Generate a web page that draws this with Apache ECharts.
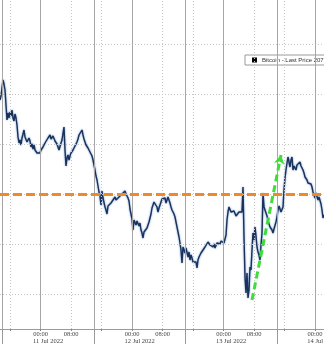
<!DOCTYPE html>
<html><head><meta charset="utf-8">
<script src="https://cdn.jsdelivr.net/npm/echarts@6/dist/echarts.min.js"></script>
<style>html,body{margin:0;padding:0;background:#fff}#c{width:324px;height:344px}</style>
</head><body><div id="c"></div>
<script>
// ---- data ----
const seriesName = 'Bitcoin - Last Price 20753';
const startTime = '2022-07-10T13:19:00';
const sampleMinutes = 15.75;
const prices = [
20940,20980,21060,21140,21100,21040,20890,20740,20810,20760,
20820,20780,20840,20760,20730,20800,20760,20690,20570,20510,
20540,20490,20560,20600,20640,20570,20590,20520,20510,20560,
20530,20470,20500,20450,20490,20440,20460,20410,20390,20430,
20410,20440,20430,20470,20460,20510,20530,20500,20560,20540,
20590,20550,20530,20580,20560,20530,20550,20500,20480,20440,
20460,20510,20540,20560,20670,20440,20280,20360,20390,20340,
20380,20410,20390,20440,20430,20480,20470,20520,20550,20590,
20570,20610,20640,20590,20550,20520,20490,20500,20460,20440,
20420,20430,20380,20340,20290,20240,20180,20140,20080,20020,
19980,19890,20030,19960,19940,19870,19840,19800,19880,19860,
19890,19910,19900,19940,19930,19970,19940,19930,19950,19970,
19980,19960,20000,19990,20010,20030,20000,20020,19960,19930,
19850,19800,19750,19640,19740,19760,19690,19730,19720,19680,
19710,19640,19610,19560,19620,19640,19610,19660,19680,19720,
19740,19800,19860,19890,19920,19910,19930,19870,19820,19860,
19890,19920,19950,19970,19940,19960,19910,19930,19970,19950,
19910,19870,19840,19820,19800,19770,19720,19670,19620,19570,
19510,19440,19310,19470,19440,19410,19460,19470,19370,19420,
19340,19390,19360,19320,19340,19300,19320,19260,19340,19370,
19390,19410,19420,19440,19430,19470,19450,19480,19520,19500,
19490,19510,19490,19470,19500,19460,19480,19510,19490,19520,
19500,19530,19510,19540,19510,19520,19590,19740,19820,19870,
19850,19820,19840,19800,19830,19810,19780,19800,19770,19820,
19800,19840,19820,20070,19570,19170,19010,19210,18960,19040,
19270,19240,19440,19610,19540,19670,19580,19470,19420,19390,
19340,19490,19610,20010,19870,19840,19810,19780,19740,19700,
19670,19660,19640,19610,19650,19640,19720,19770,19840,19880,
19870,19820,19840,19870,20040,20160,20240,20310,20370,20320,
20270,20340,20370,20240,20280,20260,20240,20290,20310,20290,
20320,20280,20260,20240,20210,20170,20190,20140,20110,20130,
20090,20100,20070,20020,19990,19960,20010,19990,19940,19970,
19960,19900,19840,19760,19790
];
const viewStart = '2022-07-10T13:19:00';
const viewEnd = '2022-07-14T02:22:00';
const priceMin = 18650, priceMax = 21940;
const gridLevels = [19000, 19500, 20000, 20500, 21000, 21500];
const refLevel = 20000;
const solidTimes = ['2022-07-10T14:00','2022-07-11T00:00','2022-07-11T14:00','2022-07-12T00:00','2022-07-12T14:00','2022-07-13T00:00','2022-07-13T14:00','2022-07-14T00:00'];
const dottedTimes = ['2022-07-10T16:00','2022-07-11T08:00','2022-07-11T16:00','2022-07-12T08:00','2022-07-12T16:00','2022-07-13T08:00','2022-07-13T16:00'];
const separatorTimes = ['2022-07-10T14:00','2022-07-11T14:00','2022-07-12T14:00','2022-07-13T14:00'];
const tickTimes = ['2022-07-10T16:00','2022-07-11T00:00','2022-07-11T08:00','2022-07-11T16:00','2022-07-12T00:00','2022-07-12T08:00','2022-07-12T16:00','2022-07-13T00:00','2022-07-13T08:00','2022-07-13T16:00','2022-07-14T00:00'];
const timeLabelTimes = ['2022-07-11T00:00','2022-07-11T08:00','2022-07-12T00:00','2022-07-12T08:00','2022-07-13T00:00','2022-07-13T08:00','2022-07-14T00:00'];
const timeLabels = ['00:00','08:00','00:00','08:00','00:00','08:00','00:00'];
const dayTimes = ['2022-07-11T00:00','2022-07-12T00:00','2022-07-13T00:00','2022-07-14T00:00'];
const dayLabels = ['11 Jul 2022','12 Jul 2022','13 Jul 2022','14 Jul 2022'];
const arrowFrom = ['2022-07-13T07:28', 18940];
const arrowTo = ['2022-07-13T15:05', 20390];

// ---- build ----
const ms = s => new Date(s).getTime();
const t0 = ms(startTime);
const lineData = prices.map((p, i) => [t0 + i * sampleMinutes * 60000, p]);
const timeLabelMs = timeLabelTimes.map(ms);
const dateShift = 2 * 3600000; // date text starts left of the day tick
const dayAnchorMs = dayTimes.map(s => ms(s) - dateShift);
const AXFONT = "'Liberation Serif','DejaVu Serif',serif";
const LGFONT = "'Liberation Sans',Arial,sans-serif";

const chart = echarts.init(document.getElementById('c'), null, {renderer: 'canvas'});
chart.setOption({
  animation: false,
  backgroundColor: '#ffffff',
  grid: {left: 0, right: 0, top: 0, bottom: 15, containLabel: false, outerBoundsMode: 'none'},
  legend: {
    data: [{name: seriesName, icon: 'rect', itemStyle: {color: '#000'}}],
    left: 245, top: 55, orient: 'horizontal', width: 200,
    itemWidth: 5, itemHeight: 5, itemGap: 3,
    padding: [2, 3, 2, 7],
    backgroundColor: '#fff', borderColor: '#9a9a9a', borderWidth: 1,
    textStyle: {fontFamily: LGFONT, fontSize: 6, color: '#333'},
    selectedMode: false
  },
  xAxis: [{
    type: 'value', min: ms(viewStart), max: ms(viewEnd),
    axisLine: {show: true, lineStyle: {color: '#9a9a9a', width: 1}},
    axisTick: {show: true, customValues: tickTimes.map(ms), length: 2, lineStyle: {color: '#888'}},
    axisLabel: {
      show: true, customValues: timeLabelMs, margin: 2,
      fontFamily: AXFONT, fontSize: 6.5, color: '#444',
      formatter: v => { const i = timeLabelMs.indexOf(v); return i >= 0 ? timeLabels[i] : ''; }
    },
    splitLine: {show: false}
  }, {
    type: 'value', min: ms(viewStart), max: ms(viewEnd), position: 'bottom',
    axisLine: {show: false},
    axisTick: {show: true, customValues: separatorTimes.map(ms), length: 15, lineStyle: {color: '#9a9a9a', width: 1}},
    axisLabel: {
      show: true, customValues: dayAnchorMs, margin: 8.5, align: 'left',
      fontFamily: AXFONT, fontSize: 6.5, color: '#444',
      formatter: v => { const i = dayAnchorMs.indexOf(v); return i >= 0 ? dayLabels[i] : ''; }
    },
    splitLine: {show: false}
  }],
  yAxis: {type: 'value', min: priceMin, max: priceMax, show: false, splitLine: {show: false}},
  series: [{
    name: '_grid', type: 'line', data: [], z: 1, silent: true,
    markLine: {
      silent: true, symbol: 'none', label: {show: false}, animation: false,
      data: [
        ...gridLevels.map(v => ({yAxis: v, lineStyle: {color: '#c4c4c4', type: [1, 2], width: 1}})),
        ...dottedTimes.map(t => ({xAxis: ms(t), lineStyle: {color: '#c4c4c4', type: [1, 2], width: 1}})),
        ...solidTimes.map(t => ({xAxis: ms(t), lineStyle: {color: '#a6a6a6', type: 'solid', width: 1}}))
      ]
    }
  }, {
    name: '_ref', type: 'line', data: [], z: 2, silent: true,
    markLine: {
      silent: true, symbol: 'none', label: {show: false}, animation: false,
      data: [{yAxis: refLevel, lineStyle: {color: '#ef8a2c', type: [9, 4], width: 3}}]
    }
  }, {
    name: seriesName, type: 'line', data: lineData, z: 3,
    showSymbol: false, symbol: 'none', clip: true,
    lineStyle: {color: '#1a3259', width: 1.4, shadowColor: 'rgba(60,110,190,0.8)', shadowBlur: 2}
  }, {
    name: '_arrow', type: 'line', data: [], z: 4, silent: true,
    markLine: {
      silent: true, label: {show: false}, animation: false,
      symbol: ['none', 'arrow'], symbolSize: [8, 9],
      data: [[
        {coord: [ms(arrowFrom[0]), arrowFrom[1]]},
        {coord: [ms(arrowTo[0]), arrowTo[1]]}
      ]],
      lineStyle: {color: '#3fdc3a', type: [7, 4], width: 3}
    }
  }]
});
</script></body></html>
